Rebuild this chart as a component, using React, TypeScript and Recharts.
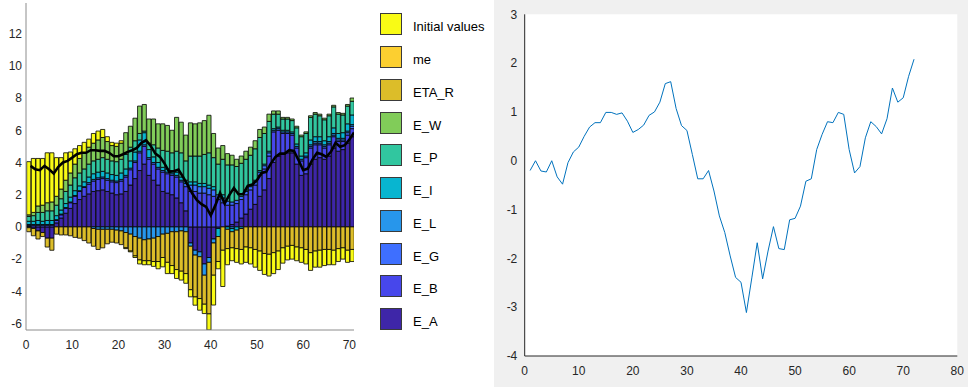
import React from "react";
import { ComposedChart, LineChart, Bar, Line, XAxis, YAxis, CartesianGrid, Legend } from "recharts";

// ---------- data ----------
const periods = [1,2,3,4,5,6,7,8,9,10,11,12,13,14,15,16,17,18,19,20,21,22,23,24,25,26,27,28,29,30,31,32,33,34,35,36,37,38,39,40,41,42,43,44,45,46,47,48,49,50,51,52,53,54,55,56,57,58,59,60,61,62,63,64,65,66,67,68,69,70,71];

const E_A = [0.05,-0.1,-0.25,-0.35,-0.7,-0.7,0.25,0.55,0.85,1.15, 1.45,1.7,1.9,2.05,2.2,2.25,2.3,2.2,2.1,2.0, 2.05,2.2,2.6,3.0,3.5,3.9,3.2,2.9,2.6,2.2, 2.1,2.0,1.8,1.5,1.0,-1.0,-1.45,-1.55,-2.3,-1.9, -0.75,-0.1,0,0.05,0.15,0.3,0.55,0.8,1.1,1.4, 1.9,2.3,3.0,4.0,4.4,4.5,4.6,4.6,3.9,3.2, 3.3,3.9,4.2,4.3,4.2,4.4,4.9,4.7,4.8,5.2, 5.6];
const E_B = [0.05,0.1,0.1,0.1,0.1,0.1,0.15,0.2,0.3,0.35, 0.45,0.5,0.55,0.6,0.65,0.7,0.7,0.7,0.7,0.75, 0.8,0.9,0.95,1.0,1.1,1.1,1.0,1.0,1.0,1.2, 1.2,1.2,1.3,1.3,1.5,2.2,2.2,2.1,2.1,2.0, 1.9,1.7,1.5,1.3,1.2,1.15,1.15,1.2,1.2,1.2, 1.3,1.3,1.4,1.9,1.6,1.3,1.2,1.1,1.0,0.9, 1.0,1.0,0.9,0.8,0.7,0.7,0.7,0.6,0.5,0.5, 0.5];
const E_G = [0.05,0.05,0.05,0.05,0.05,0.05,0.05,0.05,0.05,0.05, 0.05,0.05,0.05,0.1,0.1,0.1,0.1,0.1,0.1,0.1, 0.1,0.1,0.1,0.1,0.1,0.1,0.1,0.1,0.1,0.1, 0.1,0.1,0.1,0.1,0.2,0.4,0.4,0.4,0.4,0.4, 0.4,0.3,0.3,0.25,0.2,0.2,0.2,0.2,0.2,0.2, 0.2,0.2,0.2,0.1,0.1,0.1,0.1,0.1,0.1,0.1, 0.1,0.1,0.1,0.1,0.1,0.1,0.1,0.1,0.1,0.15, 0.15];
const E_L = [-0.05,0,0,0,0,0,0,0,0,0, 0,0,0,0,-0.1,-0.15,-0.15,-0.15,-0.15,-0.2, -0.25,-0.35,-0.45,-0.6,-0.7,-0.8,-0.75,-0.7,-0.6,-0.45, -0.4,-0.3,-0.3,-0.25,-0.3,-0.2,-0.3,-0.3,-0.7,-0.3, -0.25,0,0,0,-0.1,0,0,0,0,0, 0,0,0,0,0,0,0,0,0,0, 0,0.1,0.1,0.1,0.1,0.1,0.1,0.1,0.1,0.1, 0.1];
const E_I = [0.2,0.2,0.25,0.2,0.25,0.25,0.25,0.25,0.25,0.3, 0.3,0.3,0.3,0.35,0.35,0.35,0.35,0.35,0.35,0.35, 0.4,0.4,0.45,0.55,0.7,0.75,0.5,0.35,0.3,0.2, 0.2,0.2,0.2,0.2,0.2,0.2,0.2,0.2,0.2,0.2, 0.2,-0.5,0.2,-0.15,-0.2,-0.2,-0.1,0.1,0.1,0.1, 0.1,0.1,0.1,0.1,0.1,0.1,0.1,0.1,0.15,0.2, 0.2,0.3,0.3,0.3,0.25,0.3,0.35,0.3,0.35,0.45, 0.6];
const E_P = [0.3,0.35,0.5,0.55,0.6,0.6,0.65,0.7,0.75,0.75, 0.8,0.8,0.8,0.8,0.8,0.8,0.85,0.85,0.85,0.85, 0.85,0.9,0.85,0.7,0.4,0.1,0.4,0.75,0.9,1.05, 1.1,1.1,1.3,1.5,1.2,1.6,1.6,1.7,1.8,2.0, 1.8,1.9,2.2,2.25,2.3,2.1,2.05,1.9,1.85,1.95, 2.05,1.9,1.85,0.9,0.8,0.7,0.7,0.7,1.0,1.2, 1.2,1.4,1.4,1.3,1.3,1.3,1.3,1.2,1.1,1.1, 0.85];
const E_W = [0.1,0.2,0.4,0.45,0.5,0.55,0.55,0.6,0.7,0.75, 0.85,0.9,1.0,1.05,1.1,1.2,1.25,1.1,0.95,0.95, 1.0,1.35,1.3,1.4,1.7,1.65,1.5,1.6,1.5,1.65, 1.6,1.4,2.1,1.9,1.6,2.06,2.0,2.06,2.1,2.33, 1.5,1.0,0.85,0.7,0.6,0.45,0.45,0.5,0.5,0.5, 0.5,0.4,0.45,0.2,0.2,0.1,0.1,0.1,0.1,0.1, 0.1,0.1,0.1,0.1,0.1,0.1,0.1,0.1,0.1,0.1, 0.2];
const ETA_R = [-0.25,-0.45,-0.5,-0.25,-0.55,-0.75,-0.45,-0.5,-0.5,-0.55, -0.65,-0.7,-0.85,-1.0,-1.1,-1.25,-1.15,-0.9,-0.8,-0.8, -0.85,-0.95,-1.05,-1.2,-1.35,-1.3,-1.35,-1.45,-1.55,-1.45, -1.8,-2.1,-2.35,-2.5,-2.6,-2.7,-2.6,-2.6,-1.8,-3.2, -2.0,-1.55,-1.45,-1.2,-1.0,-1.15,-1.3,-1.25,-1.3,-1.4, -1.5,-1.65,-1.7,-1.6,-1.5,-1.3,-1.2,-1.15,-1.25,-1.3, -1.4,-1.6,-1.5,-1.45,-1.4,-1.4,-1.45,-1.35,-1.3,-1.45, -1.4];
const me = [0,0,0,0,0,0,0,0,0,0, 0,0,0,0,0,0,0,0,0,0, 0,0,0,0,0,0,0,0,0,0, 0,0,0,0,0,0,0,0,0,0, 0,0,0,0,0,0,0,0,0,0, 0,0,0,0,0,0,0,0,0,0, 0,0,0,0,0,0,0,0,0,0, 0];
const initialValues = [3.3,3.35,2.95,2.9,3.1,3.05,2.4,1.95,1.7,1.3, 0.95,0.8,0.65,0.5,0.6,0.55,0.5,0.3,0.2,0.2, 0.15,-0.05,-0.05,-0.1,-0.25,-0.25,-0.25,-0.3,-0.45,-0.58, -0.7,-0.5,-0.55,-0.55,-0.6,-0.44,-0.51,-0.72,-0.58,-1.2, -1.85,-0.45,-2.25,-1.0,-0.8,-0.85,-0.9,-0.95,-1.0,-1.1, -1.2,-1.3,-1.35,-1.3,-1.15,-0.95,-0.85,-0.85,-0.85,-0.9, -0.9,-1.1,-1.0,-1.05,-1.0,-0.95,-0.9,-0.8,-0.7,-0.75, -0.75];
const totalLine = [3.79,3.58,3.52,3.79,3.58,3.31,3.73,4.0,4.1,4.3, 4.51,4.6,4.6,4.76,4.76,4.72,4.72,4.6,4.39,4.39, 4.51,4.66,4.76,4.9,5.22,5.38,5.03,4.55,4.35,3.93, 3.42,3.46,3.56,3.1,2.59,2.07,1.66,1.41,1.24,0.72, 1.35,2.11,1.45,1.97,2.42,2.03,2.03,2.55,2.63,2.9, 3.35,3.42,3.93,4.35,4.55,4.55,4.76,4.72,4.14,3.52, 3.62,4.18,4.6,4.51,4.35,4.66,5.22,4.97,5.07,5.42, 5.86];

const rightX = [1,2,3,4,5,6,7,8,9,10,11,12,13,14,15,16,17,18,19,20,21,22,23,24,25,26,27,28,29,30,31,32,33,34,35,36,37,38,39,40,41,42,43,44,45,46,47,48,49,50,51,52,53,54,55,56,57,58,59,60,61,62,63,64,65,66,67,68,69,70,71,72];
const rightValues = [-0.2,0.0,-0.21,-0.23,0.0,-0.33,-0.48,-0.04,0.18,0.28, 0.5,0.69,0.78,0.78,0.99,0.99,0.95,0.98,0.81,0.58, 0.64,0.73,0.93,1.0,1.2,1.58,1.62,1.07,0.72,0.62, 0.13,-0.37,-0.37,-0.2,-0.62,-1.13,-1.47,-1.95,-2.39,-2.49, -3.11,-2.4,-1.68,-2.42,-1.85,-1.35,-1.8,-1.82,-1.21,-1.18, -0.93,-0.42,-0.37,0.23,0.54,0.8,0.78,0.99,0.95,0.23, -0.25,-0.12,0.47,0.8,0.7,0.55,0.86,1.49,1.2,1.29, 1.73,2.08];

const leftXTicks = [0,10,20,30,40,50,60,70];
const leftYTicks = [-6,-4,-2,0,2,4,6,8,10,12];
const rightXTicks = [0,10,20,30,40,50,60,70,80];
const rightYTicks = [-4,-3,-2,-1,0,1,2,3];

// stacking order (first = closest to zero)
const seriesNames = ["E_A","E_B","E_G","E_L","E_I","E_P","E_W","ETA_R","me","Initial values"];
const seriesValues = [E_A,E_B,E_G,E_L,E_I,E_P,E_W,ETA_R,me,initialValues];
const seriesColors = ["#3e26a8","#4747eb","#3e6fff","#2796eb","#08b5d0","#31c69f","#81cc59","#dcbd29","#fccf30","#f9fb15"];

const leftData = periods.map((p, i) => {
  const row: Record<string, number> = { period: p, total: totalLine[i] };
  seriesNames.forEach((n, j) => { row[n] = seriesValues[j][i]; });
  return row;
});
const rightData = rightX.map((x, i) => ({ x, v: rightValues[i] }));

// ---------- styling ----------
const FONT = "'Liberation Sans', Arial, Helvetica, sans-serif";
const labelColor = "#262626";
const leftBox = "#8c8c8c";
const leftTick = "#4a4a4a";
const rightBox = "#262626";

const L_PLOT_LEFT = 26, L_PLOT_RIGHT = 354, L_PLOT_TOP = 3, L_PLOT_BOTTOM = 330;
const L_W = 494, L_H = 387;
const barWidth = (L_PLOT_RIGHT - L_PLOT_LEFT) / 71;

const LegendBox = () => {
  const items = [...seriesNames].reverse();
  const colors = [...seriesColors].reverse();
  return (
    <div style={{ position: "relative", width: 112, height: 330, fontFamily: FONT }}>
      {items.map((n, i) => (
        <div key={n} style={{ position: "absolute", left: 0, top: i * 32.75, height: 22, width: 112 }}>
          <div style={{ position: "absolute", left: 0, top: 0, width: 22, height: 22, boxSizing: "border-box", border: "1px solid #3a3a3a", background: colors[i] }} />
          <div style={{ position: "absolute", left: 33, top: 3, lineHeight: "22px", fontSize: 13, color: "#000", whiteSpace: "nowrap" }}>{n}</div>
        </div>
      ))}
    </div>
  );
};

export default function App() {
  const yDom: [number, number] = [-6.4, 13.9];
  return (
    <div style={{ position: "absolute", left: 0, top: 0, width: 968, height: 387, background: "#fff", overflow: "hidden" }}>
      <div style={{ position: "absolute", left: 0, top: 0, width: L_W, height: L_H }}>
        <ComposedChart
          width={L_W}
          height={L_H}
          data={leftData}
          stackOffset="sign"
          barCategoryGap={0}
          barGap={0}
          margin={{ top: L_PLOT_TOP, right: L_W - L_PLOT_RIGHT, bottom: L_H - L_PLOT_BOTTOM - 20, left: L_PLOT_LEFT - 26 }}
        >
          <XAxis xAxisId="main" dataKey="period" type="number" domain={[0, 71]} ticks={leftXTicks} allowDataOverflow
            height={20} tickLine={false} tickSize={0} tickMargin={10.5} axisLine={{ stroke: leftBox }}
            tick={{ fill: labelColor, fontSize: 12, fontFamily: FONT }} />
          <XAxis xAxisId="bt" type="number" domain={[0, 71]} ticks={leftXTicks} allowDataOverflow mirror height={0}
            tick={false} tickSize={4} axisLine={false} tickLine={{ stroke: leftTick }} />
          <XAxis xAxisId="bar" dataKey="period" type="number" domain={[0.35, 71.35]} hide height={0} allowDataOverflow />
          <XAxis xAxisId="top" orientation="top" type="number" domain={[0, 71]} ticks={leftXTicks} allowDataOverflow mirror height={0}
            tick={false} tickSize={4} axisLine={{ stroke: leftBox }} tickLine={{ stroke: leftTick }} />
          <YAxis yAxisId="main" type="number" domain={yDom} ticks={leftYTicks} allowDataOverflow width={26}
            tickLine={false} tickSize={0} tickMargin={4} axisLine={{ stroke: leftBox }}
            tick={{ fill: labelColor, fontSize: 12, fontFamily: FONT }} />
          <YAxis yAxisId="lt" type="number" domain={yDom} ticks={leftYTicks} allowDataOverflow mirror width={0}
            tick={false} tickSize={4} axisLine={false} tickLine={{ stroke: leftTick }} />
          <YAxis yAxisId="rt" orientation="right" type="number" domain={yDom} ticks={leftYTicks} allowDataOverflow mirror width={0}
            tick={false} tickSize={4} axisLine={{ stroke: leftBox }} tickLine={{ stroke: leftTick }} />
          {seriesNames.map((n, j) => (
            <Bar key={n} dataKey={n} name={n} stackId="s" xAxisId="bar" yAxisId="main" fill={seriesColors[j]}
              stroke="#000" strokeWidth={0.8} barSize={barWidth} isAnimationActive={false} />
          ))}
          <Line dataKey="total" xAxisId="main" yAxisId="main" stroke="#000" strokeWidth={2.6} dot={false}
            activeDot={false} isAnimationActive={false} type="linear" />
          <Legend layout="vertical" align="center" verticalAlign="middle" content={() => <LegendBox />}
            wrapperStyle={{ left: 380, top: 13.3, width: 112, height: 330 }} />
        </ComposedChart>
      </div>
      <div style={{ position: "absolute", left: 494, top: 0, width: 474, height: 387, background: "#f0f0f0" }}>
        <LineChart width={474} height={387} data={rightData}
          margin={{ top: 14.3, right: 10.7, bottom: 11, left: 5.7 }}>
          <CartesianGrid xAxisId="main" yAxisId="main" fill="#ffffff" horizontal={false} vertical={false} />
          <XAxis xAxisId="main" dataKey="x" type="number" domain={[0, 80]} ticks={rightXTicks} allowDataOverflow
            height={20} tickLine={false} tickSize={0} tickMargin={10} axisLine={{ stroke: rightBox }}
            tick={{ fill: labelColor, fontSize: 12, fontFamily: FONT }} />
          <XAxis xAxisId="bt" type="number" domain={[0, 80]} ticks={rightXTicks} allowDataOverflow mirror height={0}
            tick={false} tickSize={4} axisLine={false} tickLine={{ stroke: rightBox }} />
          <XAxis xAxisId="top" orientation="top" type="number" domain={[0, 80]} ticks={rightXTicks} allowDataOverflow mirror height={0}
            tick={false} tickSize={4} axisLine={{ stroke: rightBox }} tickLine={{ stroke: rightBox }} />
          <YAxis yAxisId="main" type="number" domain={[-4, 3]} ticks={rightYTicks} allowDataOverflow width={25}
            tickLine={false} tickSize={0} tickMargin={7.4} axisLine={{ stroke: rightBox }}
            tick={{ fill: labelColor, fontSize: 12, fontFamily: FONT }} />
          <YAxis yAxisId="lt" type="number" domain={[-4, 3]} ticks={rightYTicks} allowDataOverflow mirror width={0}
            tick={false} tickSize={4} axisLine={false} tickLine={{ stroke: rightBox }} />
          <YAxis yAxisId="rt" orientation="right" type="number" domain={[-4, 3]} ticks={rightYTicks} allowDataOverflow mirror width={0}
            tick={false} tickSize={4} axisLine={{ stroke: rightBox }} tickLine={{ stroke: rightBox }} />
          <Line dataKey="v" xAxisId="main" yAxisId="main" stroke="#0072bd" strokeWidth={1} dot={false}
            activeDot={false} isAnimationActive={false} type="linear" />
        </LineChart>
      </div>
    </div>
  );
}
